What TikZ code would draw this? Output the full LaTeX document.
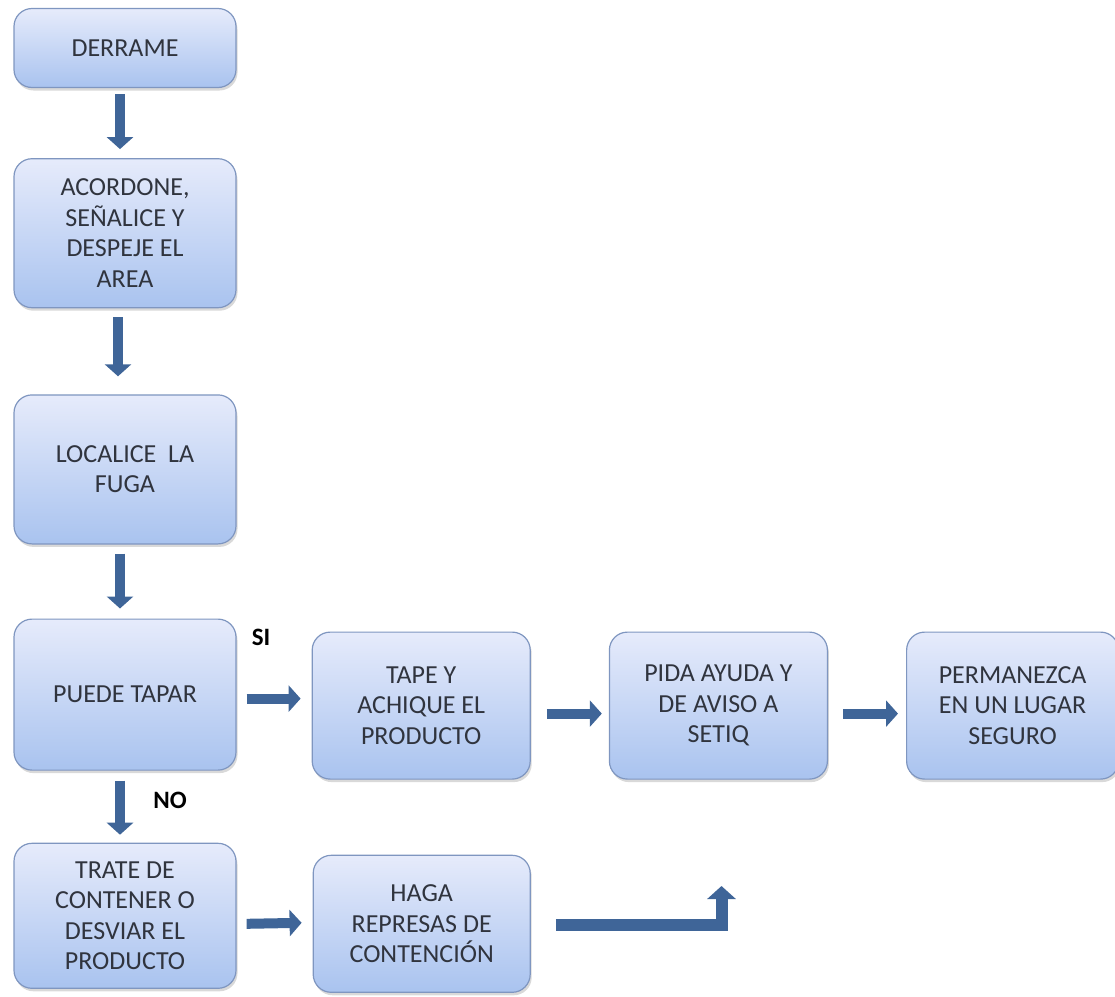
\documentclass[tikz,border=0pt]{standalone}
\usepackage{fontspec}
\setmainfont{Carlito}
\usetikzlibrary{positioning,arrows.meta,shadows}

\definecolor{boxtop}{HTML}{E6EBFB}
\definecolor{boxbot}{HTML}{A9C3EF}
\definecolor{boxline}{HTML}{7F96C0}
\definecolor{flowblue}{HTML}{3F6598}
\definecolor{txtgray}{HTML}{30343E}

\begin{document}
\begin{tikzpicture}[
    x=1pt, y=1pt,
    node distance=70pt and 75pt,
    box/.style    ={draw=boxline,line width=1.2pt,rounded corners=18pt,
                    top color=boxtop,bottom color=boxbot,
                    minimum width=222pt,minimum height=149pt,
                    align=center,text=txtgray,
                    font=\fontsize{26}{30.5}\selectfont,
                    drop shadow={shadow xshift=1.5pt,shadow yshift=-3pt,opacity=.3}},
    rowbox/.style ={box,minimum width=218pt,minimum height=147pt},
    flow/.style   ={-{Triangle[width=26pt,length=12pt]},draw=flowblue,line width=10pt},
    tag/.style    ={font=\fontsize{25}{28}\selectfont\bfseries,text=black}
]
\useasboundingbox (0,0) rectangle (1115,-996);

% columna principal
\node[box,minimum height=79pt] (der) at (125,-48) {DERRAME};
\node[box, below=70pt of der]  (aco) {ACORDONE,\\SEÑALICE Y\\DESPEJE EL\\AREA};
\node[box, below=86pt of aco]  (loc) {LOCALICE\ \ LA\\FUGA};
\node[box, below=74pt of loc, minimum height=151pt] (pue) {PUEDE TAPAR};
\node[box, below=72pt of pue, minimum height=145pt] (tra) {TRATE DE\\CONTENER O\\DESVIAR EL\\PRODUCTO};

% rama SI
\node[rowbox, right=75pt of pue, yshift=-11pt] (tap) {TAPE Y\\ACHIQUE EL\\PRODUCTO};
\node[rowbox, right=78pt of tap]               (pid) {PIDA AYUDA Y\\DE AVISO A\\SETIQ};
\node[rowbox, right=78pt of pid, minimum width=212pt] (per) {PERMANEZCA\\EN UN LUGAR\\SEGURO};

% rama NO
\node[rowbox, right=76pt of tra, yshift=-8pt, minimum width=217pt, minimum height=137pt] (hag)
    {HAGA\\REPRESAS DE\\CONTENCIÓN};

\draw[flow] ([shift={(-5pt,-6pt)}]der.south) -- ([shift={(-5pt,9pt)}]aco.north);
\draw[flow] ([shift={(-7pt,-9pt)}]aco.south) -- ([shift={(-7pt,18pt)}]loc.north);
\draw[flow] ([shift={(-5pt,-9pt)}]loc.south) -- ([shift={(-5pt,10pt)}]pue.north);
\draw[flow] ([shift={(-5pt,-10pt)}]pue.south) -- ([shift={(-5pt,8pt)}]tra.north);

\draw[flow] ([xshift=10pt,yshift=-4pt]pue.east) -- ([xshift=-11pt,yshift=7pt]tap.west);
\draw[flow] ([xshift=16pt,yshift=-8pt]tap.east) -- ([xshift=-7pt,yshift=-8pt]pid.west);
\draw[flow] ([xshift=15pt,yshift=-8pt]pid.east) -- ([xshift=-8pt,yshift=-8pt]per.west);
\draw[flow] ([xshift=10pt,yshift=-8pt]tra.east) -- ([xshift=-11pt,yshift=1pt]hag.west);

\coordinate (up) at (721.5,-886);
\draw[flow,line width=12pt,-{Triangle[width=28pt,length=13pt]}]
    ([xshift=25pt,yshift=-1.5pt]hag.east) -| (up);

\node[tag] (si) at (261,-637) {SI};
\node[tag] (no) at (170,-800) {NO};
\end{tikzpicture}
\end{document}
